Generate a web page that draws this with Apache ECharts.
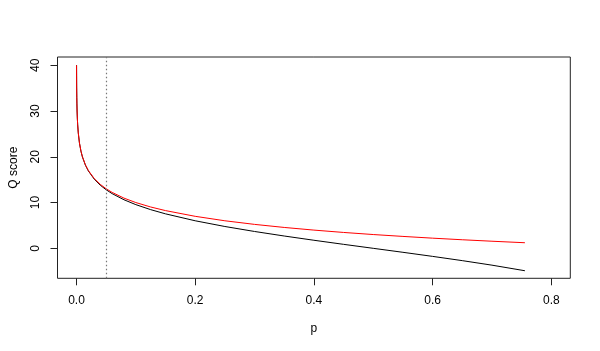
<!DOCTYPE html>
<html>
<head>
<meta charset="utf-8">
<script src="https://cdn.jsdelivr.net/npm/echarts@6/dist/echarts.min.js"></script>
<style>
  html, body { margin: 0; padding: 0; background: #fff; }
  #chart { width: 600px; height: 351px; }
</style>
</head>
<body>
<div id="chart"></div>
<script>
// p values read along the x axis
var pValues = [0.0001, 0.0002, 0.0003, 0.0005, 0.0007, 0.001, 0.0015, 0.002, 0.003, 0.005,
  0.0075, 0.01, 0.015, 0.02, 0.03, 0.04, 0.05, 0.06, 0.08, 0.1, 0.125, 0.15, 0.2, 0.25,
  0.3, 0.35, 0.4, 0.45, 0.5, 0.55, 0.6, 0.65, 0.7, 0.7555];
// red curve (Q score)
var qRed = [40, 36.99, 35.23, 33.01, 31.55, 30, 28.24, 26.99, 25.23, 23.01,
  21.25, 20, 18.24, 16.99, 15.23, 13.98, 13.01, 12.22, 10.97, 10, 9.03, 8.24, 6.99, 6.02,
  5.23, 4.56, 3.98, 3.47, 3.01, 2.60, 2.22, 1.87, 1.55, 1.22];
// black curve (Q score)
var qBlack = [40, 36.99, 35.23, 33.01, 31.55, 30, 28.23, 26.98, 25.22, 22.99,
  21.22, 19.96, 18.17, 16.90, 15.10, 13.80, 12.79, 11.95, 10.61, 9.54, 8.45, 7.53, 6.02, 4.77,
  3.68, 2.69, 1.76, 0.87, 0.00, -0.87, -1.76, -2.69, -3.68, -4.90];
var xTicks = [0, 0.2, 0.4, 0.6, 0.8];
var yTicks = [0, 10, 20, 30, 40];
var cutoff = 0.05;

var font = 'Liberation Sans, Arial, sans-serif';
var chart = echarts.init(document.getElementById('chart'));

function pairs(ys) {
  return pValues.map(function (p, i) { return [p, ys[i]]; });
}

chart.setOption({
  animation: false,
  backgroundColor: '#fff',
  grid: {
    left: 57.5, right: 29.7, top: 57, bottom: 72.7,
    containLabel: false,
    outerBoundsMode: 'none',
    show: true, borderColor: '#222', borderWidth: 1, backgroundColor: 'transparent'
  },
  xAxis: {
    type: 'value',
    min: -0.032, max: 0.832,
    name: 'p',
    nameLocation: 'middle',
    nameGap: 44,
    nameTextStyle: { fontFamily: font, fontSize: 12, color: '#000' },
    axisLine: { show: false, onZero: false },
    splitLine: { show: false },
    axisTick: { show: true, length: 7, customValues: xTicks, lineStyle: { color: '#222' } },
    axisLabel: {
      customValues: xTicks, margin: 16, color: '#000', fontFamily: font, fontSize: 12,
      formatter: function (v) { return v.toFixed(1); }
    }
  },
  yAxis: {
    type: 'value',
    min: -6.55, max: 41.8,
    name: 'Q score',
    nameLocation: 'middle',
    nameGap: 38,
    nameTextStyle: { fontFamily: font, fontSize: 12, color: '#000' },
    axisLine: { show: false, onZero: false },
    splitLine: { show: false },
    axisTick: { show: true, length: 7, customValues: yTicks, lineStyle: { color: '#222' } },
    axisLabel: {
      customValues: yTicks, rotate: 90, margin: 16, color: '#000', fontFamily: font, fontSize: 12
    }
  },
  series: [
    {
      type: 'line',
      data: pairs(qBlack),
      showSymbol: false,
      silent: true,
      lineStyle: { color: '#000', width: 1 },
      markLine: {
        silent: true,
        symbol: ['none', 'none'],
        label: { show: false },
        lineStyle: { color: '#777', width: 1.2, type: [1.5, 2.5] },
        data: [{ xAxis: cutoff }]
      }
    },
    {
      type: 'line',
      data: pairs(qRed),
      showSymbol: false,
      silent: true,
      lineStyle: { color: '#ff0000', width: 1 }
    }
  ]
});
</script>
</body>
</html>
